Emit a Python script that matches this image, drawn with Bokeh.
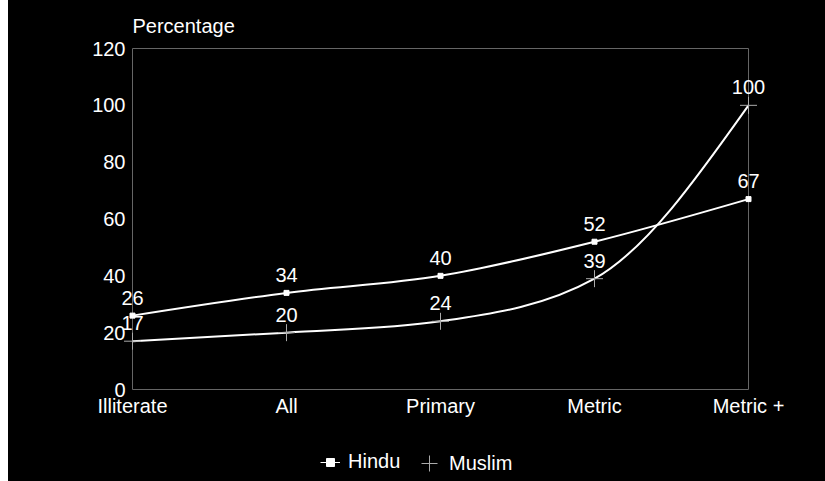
import numpy as np
from bokeh.plotting import figure
from bokeh.layouts import column, row
from bokeh.models import (Range1d, FixedTicker, Legend, LegendItem, Title,
                          ColumnDataSource, Spacer)
from bokeh.core.properties import value
from bokeh.embed import file_html
from bokeh.resources import INLINE

# Education levels and share (%) per community
categories = ["Illiterate", "All", "Primary", "Metric", "Metric +"]
hindu = [26, 34, 40, 52, 67]
muslim = [17, 20, 24, 39, 100]
y_ticks = [0, 20, 40, 60, 80, 100, 120]

FONT = "Liberation Sans"
FS = "20px"
BG = "black"
W = 817


def monotone_bezier(xs, ys):
    """Control points of a monotone cubic (Steffen) curve through the points."""
    xs = np.asarray(xs, float)
    ys = np.asarray(ys, float)
    h = np.diff(xs)
    s = np.diff(ys) / h
    n = len(xs)
    t = np.zeros(n)
    for i in range(1, n - 1):
        p = (s[i - 1] * h[i] + s[i] * h[i - 1]) / (h[i - 1] + h[i])
        t[i] = (np.sign(s[i - 1]) + np.sign(s[i])) * min(abs(s[i - 1]), abs(s[i]), 0.5 * abs(p))
    t[0] = (3 * s[0] - t[1]) / 2
    t[-1] = (3 * s[-1] - t[-2]) / 2
    dx = h / 3
    return dict(
        x0=xs[:-1], y0=ys[:-1], x1=xs[1:], y1=ys[1:],
        cx0=xs[:-1] + dx, cy0=ys[:-1] + dx * t[:-1],
        cx1=xs[1:] - dx, cy1=ys[1:] - dx * t[1:],
    )


xs = list(range(len(categories)))

# ---------------------------------------------------------------- main chart
p = figure(width=W, height=435, output_backend="svg", toolbar_location=None,
           x_range=Range1d(0, len(categories) - 1), y_range=Range1d(0, 120),
           min_border_left=124, min_border_right=77,
           min_border_top=48, min_border_bottom=46,
           background_fill_color=BG, border_fill_color=BG)

p.xgrid.visible = False
p.ygrid.visible = False
p.outline_line_color = "#666666"
p.outline_line_width = 1

for ax in (p.xaxis[0], p.yaxis[0]):
    ax.axis_line_color = None
    ax.major_tick_line_color = None
    ax.minor_tick_line_color = None
    ax.major_tick_out = 0
    ax.major_tick_in = 0
    ax.minor_tick_out = 0
    ax.minor_tick_in = 0
    ax.major_label_text_color = "white"
    ax.major_label_text_font = FONT
    ax.major_label_text_font_size = FS

p.xaxis.ticker = FixedTicker(ticks=xs)
p.xaxis.major_label_overrides = {i: c for i, c in enumerate(categories)}
p.xaxis.major_label_standoff = 5
p.yaxis.ticker = FixedTicker(ticks=y_ticks)
p.yaxis.major_label_standoff = 7

title = Title(text="Percentage", align="left", text_color="white",
              text_font=FONT, text_font_size=FS, text_font_style="normal",
              standoff=24)
p.add_layout(title, "above")

# Smoothed curves (drawn on the overlay level so the edge points stay whole)
hb = monotone_bezier(xs, hindu)
mb = monotone_bezier(xs, muslim)
p.bezier(source=ColumnDataSource(hb), x0="x0", y0="y0", x1="x1", y1="y1",
         cx0="cx0", cy0="cy0", cx1="cx1", cy1="cy1",
         line_color="white", line_width=2, level="overlay")
p.bezier(source=ColumnDataSource(mb), x0="x0", y0="y0", x1="x1", y1="y1",
         cx0="cx0", cy0="cy0", cx1="cx1", cy1="cy1",
         line_color="white", line_width=2, level="overlay")

h_src = ColumnDataSource(dict(x=xs, y=hindu, t=[str(v) for v in hindu]))
m_src = ColumnDataSource(dict(x=xs, y=muslim, t=[str(v) for v in muslim]))

p.scatter("x", "y", source=h_src, marker="square", size=5,
          fill_color="white", line_color="white", level="overlay")
p.scatter("x", "y", source=m_src, marker="cross", size=17,
          line_color="#aaaaaa", line_width=1, level="overlay")

# Value labels above each point
for src in (h_src, m_src):
    p.text("x", "y", text="t", source=src, y_offset=-18,
           text_align="center", text_baseline="alphabetic",
           text_color="white", text_font=value(FONT),
           text_font_size=value(FS), level="overlay")

# ---------------------------------------------------------------- legend strip
lg = figure(width=W, height=46, output_backend="svg", toolbar_location=None,
            x_range=Range1d(100, 101), y_range=Range1d(100, 101),
            x_axis_location=None, y_axis_location=None,
            min_border=0, background_fill_color=BG, border_fill_color=BG)
lg.outline_line_color = None
lg.xgrid.visible = False
lg.ygrid.visible = False

# series keys for the legend (their data lies outside this strip's ranges)
k_line = lg.line(xs, hindu, line_color="white", line_width=1)
k_sq = lg.scatter(xs, hindu, marker="square", fill_color="white",
                  line_color="white")
k_cross = lg.scatter(xs, muslim, marker="cross", line_color="#aaaaaa",
                     line_width=1)

common = dict(orientation="horizontal", background_fill_alpha=0,
              border_line_color=None, label_text_color="white",
              label_text_font=FONT, label_text_font_size=FS,
              padding=0, margin=0, spacing=0)
leg_h = Legend(items=[LegendItem(label="Hindu", renderers=[k_line, k_sq])],
               location=(188, 8), glyph_width=20, glyph_height=20,
               label_standoff=8, **common)
leg_m = Legend(items=[LegendItem(label="Muslim", renderers=[k_cross])],
               location=(277, -2), glyph_width=40, glyph_height=40,
               label_standoff=0, **common)
lg.add_layout(leg_h, "center")
lg.add_layout(leg_m, "center")

chart = column(p, lg, spacing=0, styles={"background-color": BG})
layout = row(Spacer(width=8, height=481, styles={"background-color": "white"}),
             chart, spacing=0)
open("out.html", "w").write(file_html(layout, INLINE))
